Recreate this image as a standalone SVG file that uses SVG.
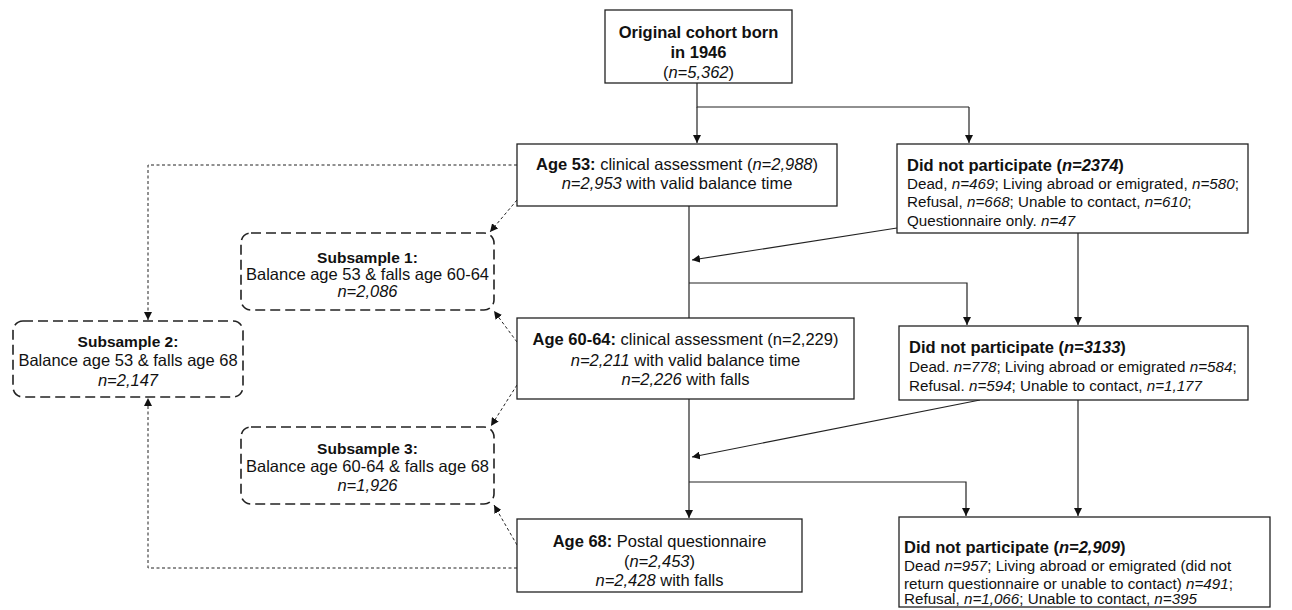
<svg xmlns="http://www.w3.org/2000/svg" width="1292" height="610" viewBox="0 0 1292 610">
<defs>
<style>
.box{fill:#fff;stroke:#222;stroke-width:1.3}
.sub{fill:#fff;stroke:#222;stroke-width:1.6;stroke-dasharray:10,5}
.ln{fill:none;stroke:#222;stroke-width:1.2}
.dl{fill:none;stroke:#222;stroke-width:1;stroke-dasharray:3,2.5}
text{font-family:"Liberation Sans",Arial,sans-serif;font-size:16.5px;fill:#111}
.s{font-size:15.2px}
.c{text-anchor:middle}
.b{font-weight:bold}
.i{font-style:italic}
.t{font-size:16.5px;font-weight:bold}
.st{font-size:15.5px;font-weight:bold}
</style>
<marker id="ah" viewBox="0 0 10 10" refX="10" refY="5" markerWidth="8" markerHeight="8" markerUnits="userSpaceOnUse" orient="auto">
<path d="M0,0 L10,5 L0,10 z" fill="#111"/>
</marker>
</defs>
<rect width="1292" height="610" fill="#fff"/>

<g id="connectors">
<path class="ln" d="M697,83 V107 H969"/>
<path class="ln" d="M697,107 V143" marker-end="url(#ah)"/>
<path class="ln" d="M969,107 V143" marker-end="url(#ah)"/>
<path class="ln" d="M689,206 V318"/>
<path class="ln" d="M897,228 L692,260" marker-end="url(#ah)"/>
<path class="ln" d="M689,283 H967 V325" marker-end="url(#ah)"/>
<path class="ln" d="M1078,233 V325" marker-end="url(#ah)"/>
<path class="ln" d="M689,399 V518" marker-end="url(#ah)"/>
<path class="ln" d="M980,400 L692,457" marker-end="url(#ah)"/>
<path class="ln" d="M689,482 H966 V516" marker-end="url(#ah)"/>
<path class="ln" d="M1078,400 V516" marker-end="url(#ah)"/>
<path class="dl" d="M517,165 H148 V320" marker-end="url(#ah)"/>
<path class="dl" d="M517,568 H148 V398" marker-end="url(#ah)"/>
<path class="dl" d="M517,200 L490,232" marker-end="url(#ah)"/>
<path class="dl" d="M517,342 L494,311" marker-end="url(#ah)"/>
<path class="dl" d="M517,385 L491,426" marker-end="url(#ah)"/>
<path class="dl" d="M517,545 L494,505" marker-end="url(#ah)"/>
</g>

<g id="cohort">
<rect class="box" x="605" y="10" width="187" height="73"/>
<text class="c t" x="698.5" y="38">Original cohort born</text>
<text class="c t" x="698.5" y="58">in 1946</text>
<text class="c" x="698.5" y="78">(<tspan class="i">n=5,362</tspan>)</text>
</g>

<g id="age53">
<rect class="box" x="517" y="144" width="320" height="62"/>
<text class="c" x="677" y="170"><tspan class="b">Age 53:</tspan> clinical assessment (<tspan class="i">n=2,988</tspan>)</text>
<text class="c" x="677" y="189"><tspan class="i">n=2,953</tspan> with valid balance time</text>
</g>

<g id="dnp1">
<rect class="box" x="897" y="144" width="351" height="89"/>
<text class="t" x="907" y="171">Did not participate (<tspan class="i">n=2374</tspan>)</text>
<text class="s" x="907" y="189">Dead, <tspan class="i">n=469</tspan>; Living abroad or emigrated, <tspan class="i">n=580</tspan>;</text>
<text class="s" x="907" y="207">Refusal, <tspan class="i">n=668</tspan>; Unable to contact, <tspan class="i">n=610</tspan>;</text>
<text class="s" x="907" y="226">Questionnaire only. <tspan class="i">n=47</tspan></text>
</g>

<g id="sub1">
<rect class="sub" x="241" y="233" width="253" height="77" rx="10"/>
<text class="c st" x="367.5" y="263">Subsample 1:</text>
<text class="c" x="367.5" y="280">Balance age 53 &amp; falls age 60-64</text>
<text class="c i" x="367.5" y="297">n=2,086</text>
</g>

<g id="sub2">
<rect class="sub" x="13" y="321" width="230" height="76" rx="10"/>
<text class="c st" x="128" y="347">Subsample 2:</text>
<text class="c" x="128" y="366">Balance age 53 &amp; falls age 68</text>
<text class="c i" x="128" y="386">n=2,147</text>
</g>

<g id="age6064">
<rect class="box" x="517" y="318" width="337" height="81"/>
<text class="c" x="685.5" y="345"><tspan class="b">Age 60-64:</tspan> clinical assessment (n=2,229)</text>
<text class="c" x="685.5" y="366"><tspan class="i">n=2,211</tspan> with valid balance time</text>
<text class="c" x="685.5" y="385"><tspan class="i">n=2,226</tspan> with falls</text>
</g>

<g id="dnp2">
<rect class="box" x="899" y="326" width="349" height="74"/>
<text class="t" x="909" y="353">Did not participate (<tspan class="i">n=3133</tspan>)</text>
<text class="s" x="909" y="372">Dead. <tspan class="i">n=778</tspan>; Living abroad or emigrated <tspan class="i">n=584</tspan>;</text>
<text class="s" x="909" y="391">Refusal. <tspan class="i">n=594</tspan>; Unable to contact, <tspan class="i">n=1,177</tspan></text>
</g>

<g id="sub3">
<rect class="sub" x="241" y="427" width="253" height="77" rx="10"/>
<text class="c st" x="367.5" y="454">Subsample 3:</text>
<text class="c" x="367.5" y="472">Balance age 60-64 &amp; falls age 68</text>
<text class="c i" x="367.5" y="491">n=1,926</text>
</g>

<g id="age68">
<rect class="box" x="517" y="519" width="285" height="73"/>
<text class="c" x="659.5" y="547"><tspan class="b">Age 68:</tspan> Postal questionnaire</text>
<text class="c" x="659.5" y="567">(<tspan class="i">n=2,453</tspan>)</text>
<text class="c" x="659.5" y="586"><tspan class="i">n=2,428</tspan> with falls</text>
</g>

<g id="dnp3">
<rect class="box" x="899" y="517" width="371" height="90"/>
<text class="t" x="904" y="553">Did not participate (<tspan class="i">n=2,909</tspan>)</text>
<text class="s" x="904" y="571">Dead <tspan class="i">n=957</tspan>; Living abroad or emigrated (did not</text>
<text class="s" x="904" y="589">return questionnaire or unable to contact) <tspan class="i">n=491</tspan>;</text>
<text class="s" x="904" y="604">Refusal, <tspan class="i">n=1,066</tspan>; Unable to contact, <tspan class="i">n=395</tspan></text>
</g>
</svg>
